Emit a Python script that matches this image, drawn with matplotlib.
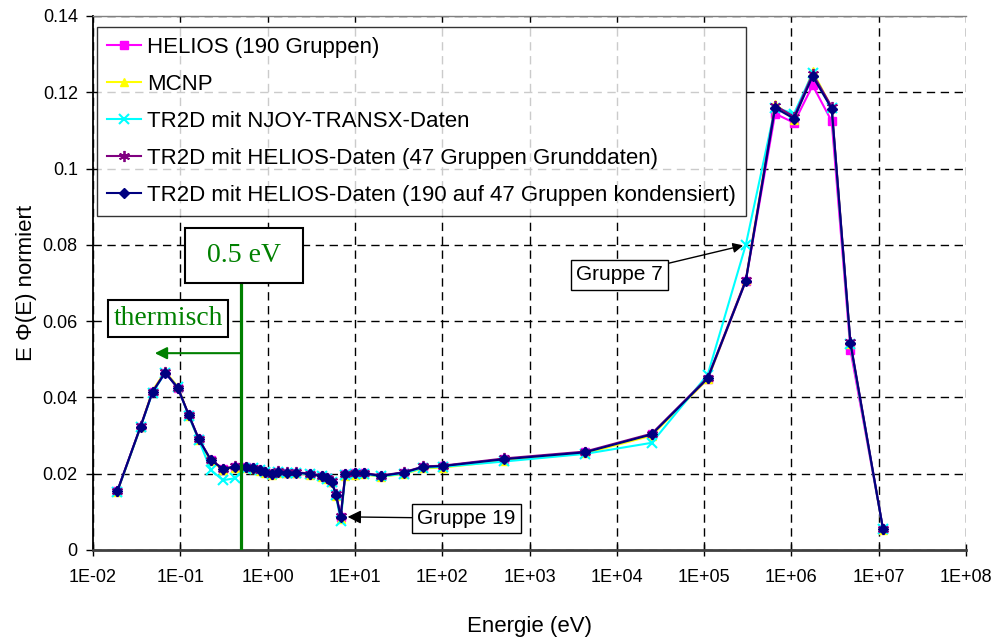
import numpy as np
import matplotlib.pyplot as plt
from matplotlib.ticker import FixedLocator, NullLocator

plt.rcParams['font.family'] = ['Liberation Sans', 'DejaVu Sans']

# group energies (eV) and normalised flux E*Phi(E) for each calculation
energy = [0.019, 0.035, 0.048, 0.067, 0.094, 0.125, 0.163, 0.223, 0.308, 0.42,
          0.566, 0.686, 0.818, 0.933, 1.11, 1.33, 1.66, 2.12, 3.06, 4.17,
          4.83, 5.42, 6.07, 6.87, 7.76, 10.0, 12.7, 19.8, 36.5, 60.7,
          101, 514, 4325, 25100, 1.1e5, 3.0e5, 6.5e5, 1.07e6, 1.75e6, 2.89e6,
          4.74e6, 1.12e7]

helios_190 = [0.0155, 0.0323, 0.0414, 0.0465, 0.0424, 0.0354, 0.0290, 0.0236, 0.0212, 0.0218,
              0.0217, 0.0214, 0.0210, 0.0204, 0.0199, 0.0205, 0.0203, 0.0203, 0.0199, 0.0194,
              0.0188, 0.0179, 0.0144, 0.0087, 0.0199, 0.0201, 0.0201, 0.0194, 0.0203, 0.0218,
              0.0220, 0.0238, 0.0256, 0.0303, 0.0448, 0.0705, 0.1144, 0.1120, 0.1218, 0.1124,
              0.0524, 0.0055]

mcnp = [0.0153, 0.0322, 0.0418, 0.0468, 0.0428, 0.0352, 0.0288, 0.0233, 0.0211, 0.0216,
        0.0215, 0.0212, 0.0208, 0.0202, 0.0197, 0.0203, 0.0201, 0.0201, 0.0197, 0.0192,
        0.0186, 0.0177, 0.0142, 0.0082, 0.0195, 0.0197, 0.0198, 0.0192, 0.0199, 0.0214,
        0.0216, 0.0234, 0.0253, 0.0300, 0.0448, 0.0707, 0.1170, 0.1128, 0.1255, 0.1160,
        0.0540, 0.0053]

tr2d_njoy = [0.0153, 0.0322, 0.0412, 0.0464, 0.0426, 0.0350, 0.0288, 0.0210, 0.0183, 0.0188,
             0.0212, 0.0214, 0.0210, 0.0204, 0.0199, 0.0204, 0.0202, 0.0202, 0.0198, 0.0193,
             0.0187, 0.0178, 0.0143, 0.0075, 0.0197, 0.0199, 0.0199, 0.0193, 0.0200, 0.0216,
             0.0218, 0.0232, 0.0252, 0.0281, 0.0460, 0.0800, 0.1160, 0.1144, 0.1250, 0.1158,
             0.0540, 0.0054]

tr2d_helios47 = [0.0154, 0.0324, 0.0415, 0.0466, 0.0425, 0.0353, 0.0291, 0.0237, 0.0213, 0.0219,
                 0.0218, 0.0215, 0.0211, 0.0205, 0.0200, 0.0206, 0.0204, 0.0204, 0.0200, 0.0195,
                 0.0189, 0.0180, 0.0146, 0.0089, 0.0200, 0.0202, 0.0202, 0.0195, 0.0204, 0.0219,
                 0.0221, 0.0240, 0.0258, 0.0305, 0.0452, 0.0708, 0.1165, 0.1136, 0.1248, 0.1162,
                 0.0545, 0.0055]

tr2d_kondensiert = [0.0155, 0.0323, 0.0414, 0.0465, 0.0424, 0.0354, 0.0290, 0.0236, 0.0212, 0.0218,
                    0.0217, 0.0214, 0.0210, 0.0204, 0.0199, 0.0205, 0.0203, 0.0203, 0.0199, 0.0194,
                    0.0188, 0.0179, 0.0144, 0.0087, 0.0199, 0.0201, 0.0201, 0.0194, 0.0203, 0.0218,
                    0.0220, 0.0238, 0.0256, 0.0303, 0.0450, 0.0705, 0.1159, 0.1131, 0.1242, 0.1157,
                    0.0542, 0.0054]

labels = ['HELIOS (190 Gruppen)', 'MCNP', 'TR2D mit NJOY-TRANSX-Daten',
          'TR2D mit HELIOS-Daten (47 Gruppen Grunddaten)',
          'TR2D mit HELIOS-Daten (190 auf 47 Gruppen kondensiert)']
x_decades = list(range(-2, 9))
y_ticks = [0, 0.02, 0.04, 0.06, 0.08, 0.1, 0.12, 0.14]
y_ticklabels = ['0', '0.02', '0.04', '0.06', '0.08', '0.1', '0.12', '0.14']

fig = plt.figure(figsize=(9.95, 6.39), dpi=100)
ax = fig.add_axes([0.0935, 0.1393, 0.8774, 0.8357])

styles = [
    dict(color='#FF00FF', marker='s', ms=5.5),
    dict(color='#FFFF00', marker='^', ms=6),
    dict(color='#00FFFF', marker='x', ms=7, mew=1.5),
    dict(color='#800080', marker=(6, 2, 0), ms=8, mew=1.3),
    dict(color='#000080', marker='D', ms=5.5),
]
series = [helios_190, mcnp, tr2d_njoy, tr2d_helios47, tr2d_kondensiert]
for vals, lab, st in zip(series, labels, styles):
    ax.plot(energy, vals, lw=1.5, label=lab, zorder=3, **st)

ax.set_xscale('log')
ax.set_xlim(1e-2, 1e8)
ax.set_ylim(0, 0.14)
ax.xaxis.set_major_locator(FixedLocator([10.0 ** k for k in x_decades]))
ax.xaxis.set_minor_locator(NullLocator())
ax.set_xticklabels([f'1E{k:+03d}' for k in x_decades])
ax.set_yticks(y_ticks)
ax.set_yticklabels(y_ticklabels)
ax.tick_params(axis='x', direction='inout', length=9, width=1, pad=9, labelsize=13)
ax.tick_params(axis='y', direction='out', length=5, width=1, pad=6, labelsize=13)

ax.grid(True, color='black', linestyle=(0, (6, 4)), linewidth=1, zorder=0)
ax.set_axisbelow(True)
ax.spines['right'].set_visible(False)
ax.spines['top'].set_color('#808080')
ax.spines['top'].set_linewidth(1)
ax.spines['left'].set_linewidth(1.3)
ax.spines['bottom'].set_color('#404040')
ax.spines['bottom'].set_linewidth(2)

ax.set_xlabel('Energie (eV)', fontsize=16, labelpad=22)
ax.set_ylabel('E Φ(E) normiert', fontsize=16, labelpad=4)

leg = ax.legend(loc='upper left', bbox_to_anchor=(0.005, 0.98), borderaxespad=0,
                fontsize=16, frameon=True, fancybox=False, edgecolor='black',
                labelspacing=0.72, handlelength=1.5, handletextpad=0.3,
                borderpad=0.45)
leg.get_frame().set_linewidth(1)
leg.set_zorder(5)

# 0.5 eV boundary of the thermal range
green = '#008000'
ax.vlines(0.5, 0, 0.075, color=green, lw=2.3, zorder=4)
ax.annotate('', xy=(0.051, 0.0516), xytext=(0.5, 0.0516),
            arrowprops=dict(arrowstyle='-|>', color=green, lw=1.5,
                            mutation_scale=18, shrinkA=0, shrinkB=0), zorder=4)
box = dict(boxstyle='square,pad=0.55', fc='white', ec='black', lw=1.5)
ax.text(0.53, 0.0772, ' 0.5 eV ', family='Liberation Serif', fontsize=20, color=green,
        ha='center', va='center', bbox=box, zorder=6)
ax.text(0.0723, 0.0607, 'thermisch', family='Liberation Serif', fontsize=20, color=green,
        ha='center', va='center',
        bbox=dict(boxstyle='square,pad=0.2', fc='white', ec='black', lw=1.5), zorder=6)

# group labels with arrows
gbox = dict(boxstyle='square,pad=0.25', fc='white', ec='black', lw=1)
ax.annotate('Gruppe 7', xy=(energy[35], tr2d_njoy[35]), xytext=(1.07e4, 0.0721),
            fontsize=15, ha='center', va='center', bbox=gbox, zorder=6,
            arrowprops=dict(arrowstyle='-|>', color='black', lw=1,
                            mutation_scale=15, shrinkA=0, shrinkB=2))
ax.annotate('Gruppe 19', xy=(energy[23], tr2d_kondensiert[23]), xytext=(190, 0.0083),
            fontsize=15, ha='center', va='center', bbox=gbox, zorder=6,
            arrowprops=dict(arrowstyle='-|>', color='black', lw=1,
                            mutation_scale=20, shrinkA=0, shrinkB=5))

fig.savefig('out.png', dpi=100)
